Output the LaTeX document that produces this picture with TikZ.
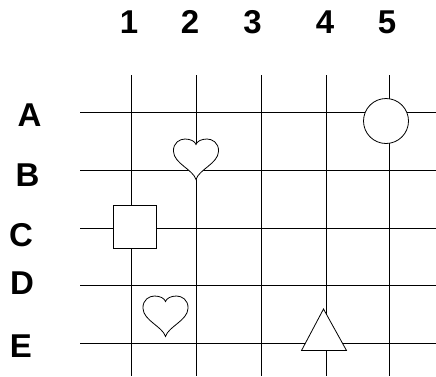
\documentclass[tikz,border=0pt]{standalone}
\usepackage{fontspec}
\setmainfont{Liberation Sans}
\usetikzlibrary{positioning}
\tikzset{
	heartpic/.pic={
			\draw[fill=white, line width=0.8pt]
			(0,0) .. controls (-3,-10) and (-22,-16) .. (-22.5,-28)
			.. controls (-23,-37) and (-16,-40.5) .. (-11,-40.5)
			.. controls (-5,-40.5) and (-1,-38) .. (0,-35)
			.. controls (1,-38) and (5,-40.5) .. (11,-40.5)
			.. controls (16,-40.5) and (23,-37) .. (22.5,-28)
			.. controls (22,-16) and (3,-10) .. (0,0) -- cycle;
		}
}
\tikzset{
	gridlabel/.style={font=\fontsize{33}{36}\selectfont\bfseries, inner sep=0pt}
}
\tikzset{
	gridline/.style={line width=0.8pt}
}
\begin{document}
\begin{tikzpicture}[x=1pt,y=-1pt]

			\useasboundingbox (0,0) rectangle (436,376);

			\begin{scope}
				\foreach \n/\x in {1/131.5,2/196,3/261,4/326,5/389.5} {
						\coordinate (top\n) at (\x,75);
						\coordinate (bot\n) at (\x,376);
						\draw[gridline] (top\n) -- (bot\n);
					}
				\foreach \n/\y in {A/112.5,B/170,C/228,D/285.5,E/343.5} {
						\coordinate (lft\n) at (80,\y);
						\coordinate (rgt\n) at (436,\y);
						\draw[gridline] (lft\n) -- (rgt\n);
					}
			\end{scope}

			\begin{scope}
				\node[gridlabel] (c1) at (129,22) {1};
				\node[gridlabel] (c2) at (190,22) {2};
				\node[gridlabel] (c3) at (252.5,22) {3};
				\node[gridlabel] (c4) at (325,22) {4};
				\node[gridlabel] (c5) at (387,22) {5};

				\node[gridlabel] (rA) at (29.5,115) {A};
				\node[gridlabel] (rB) at (27.5,175) {B};
				\node[gridlabel] (rC) at (21,235) {C};
				\node[gridlabel] (rD) at (22,283) {D};
				\node[gridlabel] (rE) at (21,346) {E};
			\end{scope}

			\node[draw, gridline, circle, fill=white, minimum size=45pt, inner sep=0pt] (ring) at (386,121) {};
			\node[draw, gridline, rectangle, fill=white, minimum size=43pt, inner sep=0pt] (box) at (134.5,227) {};

			\pic at (196,179.5) {heartpic};
			\pic at (165.5,336.5) {heartpic};

			\draw[gridline, fill=white] (323.5,309) -- (346.5,350.5) -- (301.5,350.5) -- cycle;

		\end{tikzpicture}
\end{document}
